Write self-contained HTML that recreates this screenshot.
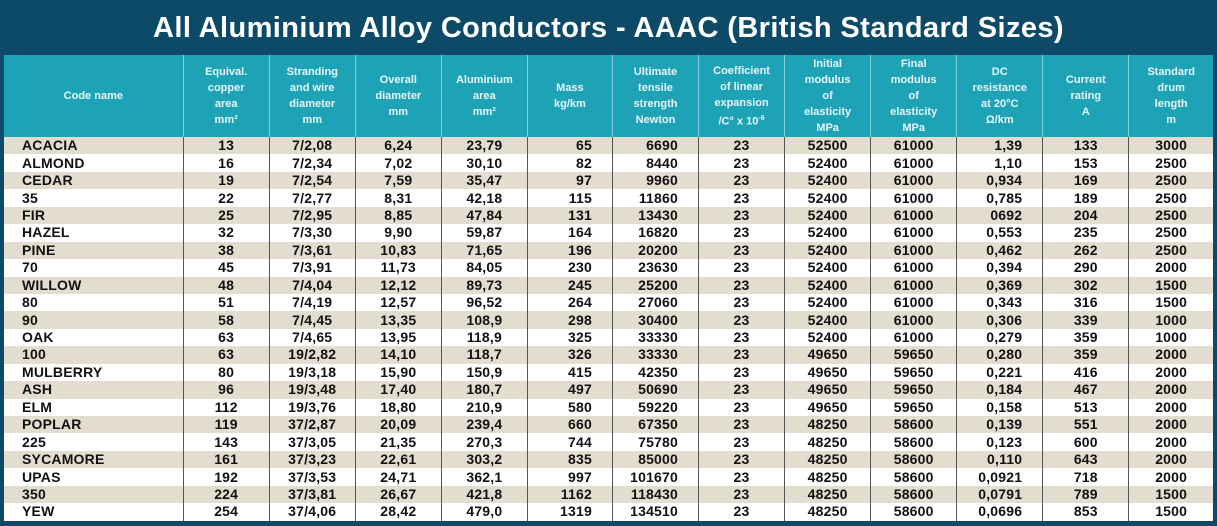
<!DOCTYPE html>
<html><head><meta charset="utf-8"><style>
*{margin:0;padding:0;box-sizing:border-box}
body{width:1217px;height:526px;background:#0d4a68;overflow:hidden;font-family:"Liberation Sans",Arial,sans-serif}
.title{position:absolute;left:0;top:0;width:1217px;height:55px;color:#fff;font-weight:bold;font-size:29px;text-align:center;line-height:56px;letter-spacing:0.4px}
table{position:absolute;left:4px;top:55px;width:1209px;border-collapse:collapse;table-layout:fixed}
th{background:#1ea3b6;color:#e6f6f8;font-size:11px;font-weight:bold;line-height:16px;height:82px;border-left:1px solid #7fd0da;vertical-align:middle;padding:0}
th:first-child{border-left:none}
td{height:17.45px;font-size:14px;font-weight:bold;color:#111;border-left:1px solid #555;text-align:center;line-height:17px;padding:0;white-space:nowrap;letter-spacing:0.2px}
td:first-child{border-left:none;text-align:left;padding-left:18px}
tr:nth-child(odd) td{background:#e3ddd0}
tr:nth-child(even) td{background:#fff}
td.r{text-align:right;padding-right:20px}
</style></head><body>
<div class="title">All Aluminium Alloy Conductors - AAAC (British Standard Sizes)</div>
<table>
<colgroup><col style="width:179px"><col style="width:86px"><col style="width:86px"><col style="width:86px"><col style="width:86px"><col style="width:85px"><col style="width:86px"><col style="width:86px"><col style="width:86px"><col style="width:86px"><col style="width:86px"><col style="width:86px"><col style="width:84px"></colgroup>
<thead><tr><th>Code name</th><th>Equival.<br>copper<br>area<br>mm²</th><th>Stranding<br>and wire<br>diameter<br>mm</th><th>Overall<br>diameter<br>mm</th><th>Aluminium<br>area<br>mm²</th><th>Mass<br>kg/km</th><th>Ultimate<br>tensile<br>strength<br>Newton</th><th>Coefficient<br>of linear<br>expansion<br>/C° x 10<sup style="font-size:7px">-6</sup></th><th>Initial<br>modulus<br>of<br>elasticity<br>MPa</th><th>Final<br>modulus<br>of<br>elasticity<br>MPa</th><th>DC<br>resistance<br>at 20°C<br>Ω/km</th><th>Current<br>rating<br>A</th><th>Standard<br>drum<br>length<br>m</th></tr></thead>
<tbody>
<tr><td>ACACIA</td><td>13</td><td>7/2,08</td><td>6,24</td><td>23,79</td><td class="r">65</td><td class="r">6690</td><td>23</td><td>52500</td><td>61000</td><td class="r">1,39</td><td>133</td><td>3000</td></tr>
<tr><td>ALMOND</td><td>16</td><td>7/2,34</td><td>7,02</td><td>30,10</td><td class="r">82</td><td class="r">8440</td><td>23</td><td>52400</td><td>61000</td><td class="r">1,10</td><td>153</td><td>2500</td></tr>
<tr><td>CEDAR</td><td>19</td><td>7/2,54</td><td>7,59</td><td>35,47</td><td class="r">97</td><td class="r">9960</td><td>23</td><td>52400</td><td>61000</td><td class="r">0,934</td><td>169</td><td>2500</td></tr>
<tr><td>35</td><td>22</td><td>7/2,77</td><td>8,31</td><td>42,18</td><td class="r">115</td><td class="r">11860</td><td>23</td><td>52400</td><td>61000</td><td class="r">0,785</td><td>189</td><td>2500</td></tr>
<tr><td>FIR</td><td>25</td><td>7/2,95</td><td>8,85</td><td>47,84</td><td class="r">131</td><td class="r">13430</td><td>23</td><td>52400</td><td>61000</td><td class="r">0692</td><td>204</td><td>2500</td></tr>
<tr><td>HAZEL</td><td>32</td><td>7/3,30</td><td>9,90</td><td>59,87</td><td class="r">164</td><td class="r">16820</td><td>23</td><td>52400</td><td>61000</td><td class="r">0,553</td><td>235</td><td>2500</td></tr>
<tr><td>PINE</td><td>38</td><td>7/3,61</td><td>10,83</td><td>71,65</td><td class="r">196</td><td class="r">20200</td><td>23</td><td>52400</td><td>61000</td><td class="r">0,462</td><td>262</td><td>2500</td></tr>
<tr><td>70</td><td>45</td><td>7/3,91</td><td>11,73</td><td>84,05</td><td class="r">230</td><td class="r">23630</td><td>23</td><td>52400</td><td>61000</td><td class="r">0,394</td><td>290</td><td>2000</td></tr>
<tr><td>WILLOW</td><td>48</td><td>7/4,04</td><td>12,12</td><td>89,73</td><td class="r">245</td><td class="r">25200</td><td>23</td><td>52400</td><td>61000</td><td class="r">0,369</td><td>302</td><td>1500</td></tr>
<tr><td>80</td><td>51</td><td>7/4,19</td><td>12,57</td><td>96,52</td><td class="r">264</td><td class="r">27060</td><td>23</td><td>52400</td><td>61000</td><td class="r">0,343</td><td>316</td><td>1500</td></tr>
<tr><td>90</td><td>58</td><td>7/4,45</td><td>13,35</td><td>108,9</td><td class="r">298</td><td class="r">30400</td><td>23</td><td>52400</td><td>61000</td><td class="r">0,306</td><td>339</td><td>1000</td></tr>
<tr><td>OAK</td><td>63</td><td>7/4,65</td><td>13,95</td><td>118,9</td><td class="r">325</td><td class="r">33330</td><td>23</td><td>52400</td><td>61000</td><td class="r">0,279</td><td>359</td><td>1000</td></tr>
<tr><td>100</td><td>63</td><td>19/2,82</td><td>14,10</td><td>118,7</td><td class="r">326</td><td class="r">33330</td><td>23</td><td>49650</td><td>59650</td><td class="r">0,280</td><td>359</td><td>2000</td></tr>
<tr><td>MULBERRY</td><td>80</td><td>19/3,18</td><td>15,90</td><td>150,9</td><td class="r">415</td><td class="r">42350</td><td>23</td><td>49650</td><td>59650</td><td class="r">0,221</td><td>416</td><td>2000</td></tr>
<tr><td>ASH</td><td>96</td><td>19/3,48</td><td>17,40</td><td>180,7</td><td class="r">497</td><td class="r">50690</td><td>23</td><td>49650</td><td>59650</td><td class="r">0,184</td><td>467</td><td>2000</td></tr>
<tr><td>ELM</td><td>112</td><td>19/3,76</td><td>18,80</td><td>210,9</td><td class="r">580</td><td class="r">59220</td><td>23</td><td>49650</td><td>59650</td><td class="r">0,158</td><td>513</td><td>2000</td></tr>
<tr><td>POPLAR</td><td>119</td><td>37/2,87</td><td>20,09</td><td>239,4</td><td class="r">660</td><td class="r">67350</td><td>23</td><td>48250</td><td>58600</td><td class="r">0,139</td><td>551</td><td>2000</td></tr>
<tr><td>225</td><td>143</td><td>37/3,05</td><td>21,35</td><td>270,3</td><td class="r">744</td><td class="r">75780</td><td>23</td><td>48250</td><td>58600</td><td class="r">0,123</td><td>600</td><td>2000</td></tr>
<tr><td>SYCAMORE</td><td>161</td><td>37/3,23</td><td>22,61</td><td>303,2</td><td class="r">835</td><td class="r">85000</td><td>23</td><td>48250</td><td>58600</td><td class="r">0,110</td><td>643</td><td>2000</td></tr>
<tr><td>UPAS</td><td>192</td><td>37/3,53</td><td>24,71</td><td>362,1</td><td class="r">997</td><td class="r">101670</td><td>23</td><td>48250</td><td>58600</td><td class="r">0,0921</td><td>718</td><td>2000</td></tr>
<tr><td>350</td><td>224</td><td>37/3,81</td><td>26,67</td><td>421,8</td><td class="r">1162</td><td class="r">118430</td><td>23</td><td>48250</td><td>58600</td><td class="r">0,0791</td><td>789</td><td>1500</td></tr>
<tr><td>YEW</td><td>254</td><td>37/4,06</td><td>28,42</td><td>479,0</td><td class="r">1319</td><td class="r">134510</td><td>23</td><td>48250</td><td>58600</td><td class="r">0,0696</td><td>853</td><td>1500</td></tr>
</tbody></table>
</body></html>
